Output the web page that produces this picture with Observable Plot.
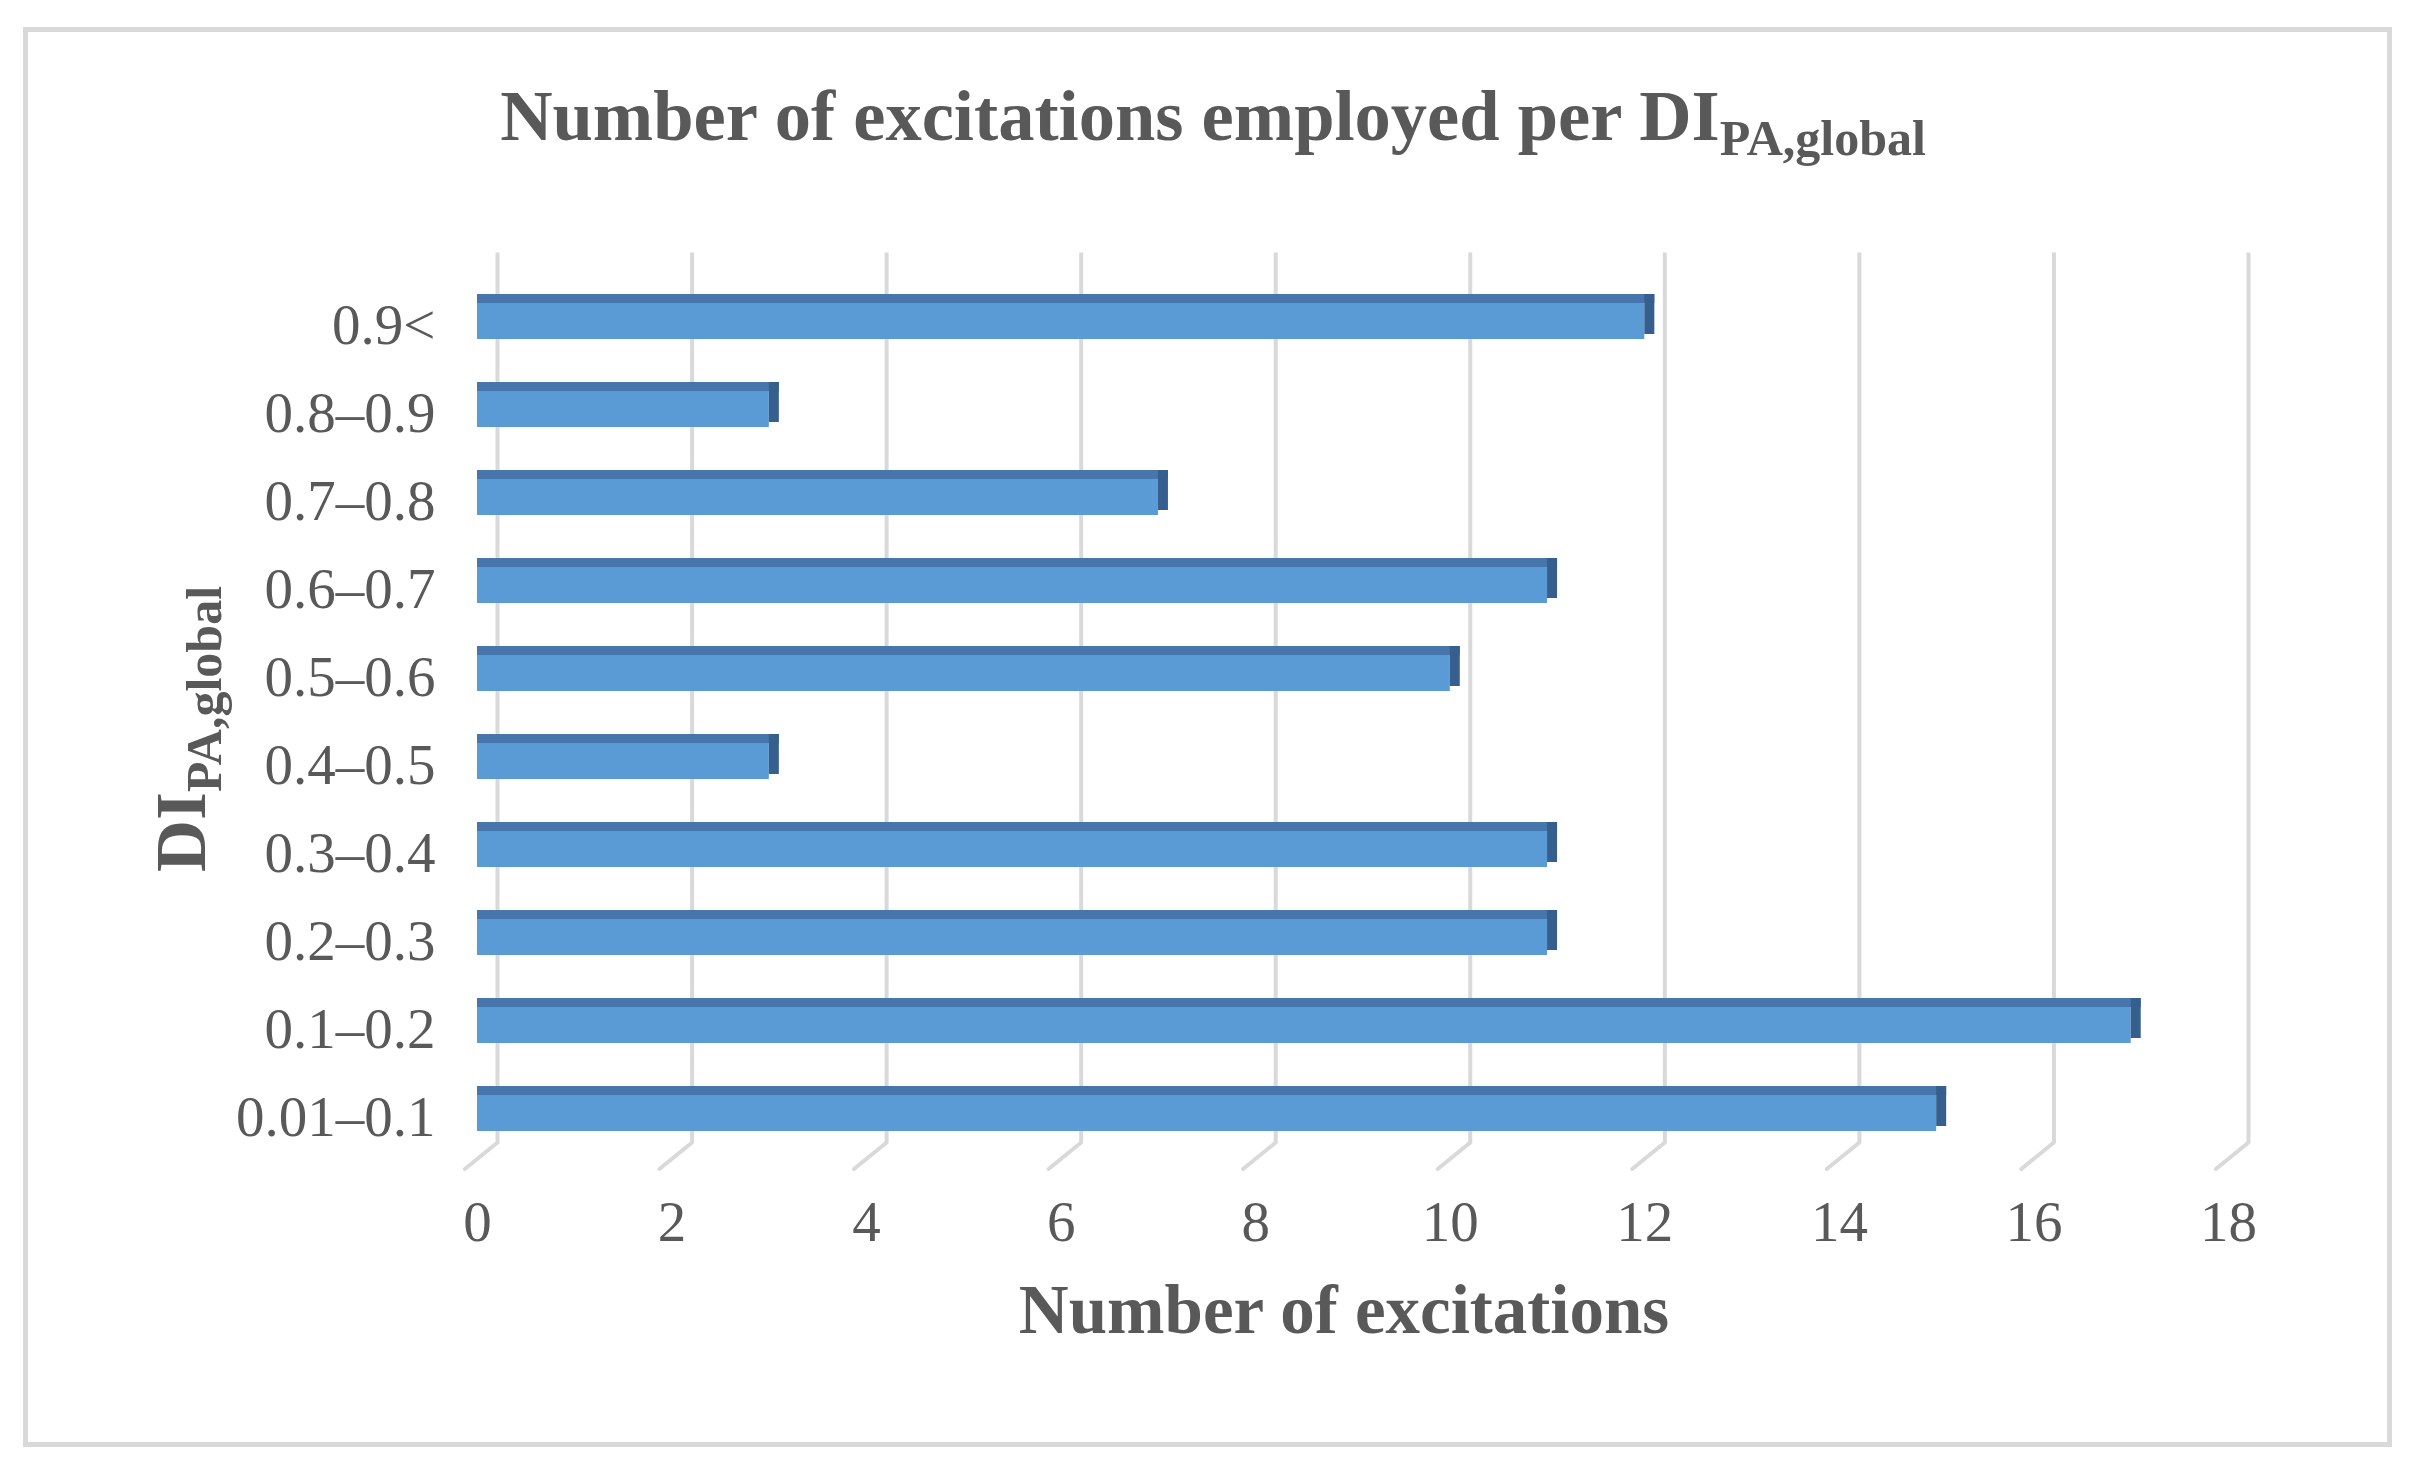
<!DOCTYPE html>
<html>
<head>
<meta charset="utf-8">
<script src="https://cdn.jsdelivr.net/npm/d3@7"></script>
<script src="https://cdn.jsdelivr.net/npm/@observablehq/plot@0.6"></script>
<style>
  html, body { margin: 0; padding: 0; background: #ffffff; }
  #page { position: relative; width: 2416px; height: 1483px; overflow: hidden; }
  #frame { position: absolute; left: 23px; top: 27px; width: 2369px; height: 1420px;
           box-sizing: border-box; border: 5px solid #d9d9d9; }
  #title { position: absolute; left: 0; top: 80px; width: 2426px; text-align: center;
           font-family: "Liberation Serif", "Times New Roman", serif; font-weight: bold;
           font-size: 72.5px; line-height: 1; color: #595959; white-space: nowrap; }
  #title .sub { font-size: 50px; position: relative; top: 15px; }
  #chart { position: absolute; left: 0; top: 180px; }
</style>
</head>
<body>
<div id="page">
  <div id="frame"></div>
  <div id="title">Number of excitations employed per DI<span class="sub">PA,global</span></div>
  <div id="chart"></div>
</div>
<script>
// ---- data ----
const categories = ["0.01–0.1", "0.1–0.2", "0.2–0.3", "0.3–0.4", "0.4–0.5",
                    "0.5–0.6", "0.6–0.7", "0.7–0.8", "0.8–0.9", "0.9<"];
const counts = [15, 17, 11, 11, 3, 10, 11, 7, 3, 12];
const xTicks = [0, 2, 4, 6, 8, 10, 12, 14, 16, 18];
const xTitle = "Number of excitations";
const yTitleMain = "DI";
const yTitleSub = "PA,global";

const data = categories.map((c, i) => ({range: c, count: counts[i]}));
const yDomain = categories.slice().reverse();

const font = "'Liberation Serif', 'Times New Roman', serif";
const textColor = "#595959";
const grid = "#d9d9d9";

const svg = Plot.plot({
  width: 2416,
  height: 1240,
  marginLeft: 477,
  marginRight: 188,
  marginTop: 68.6,
  marginBottom: 243,
  style: {fontFamily: font, background: "transparent", color: textColor},
  x: {domain: [0, 18], label: null},
  y: {domain: yDomain, padding: 0.49, label: null},
  marks: [
    Plot.ruleX(xTicks, {x: d => d, dx: 20, insetTop: 4, insetBottom: 35, stroke: grid, strokeWidth: 4}),
    Plot.vector(xTicks, {x: d => d, frameAnchor: "bottom", dx: 20, dy: -35, anchor: "start",
                         length: 42, rotate: 231, r: 0, stroke: grid, strokeWidth: 4}),
    Plot.barX(data, {y: "range", x1: 0, x2: "count", insetTop: 9, fill: "#5B9BD5"}),
    Plot.barX(data, {y: "range", x1: 0, x2: "count", insetBottom: 36, insetRight: -10, fill: "#4676AC"}),
    Plot.barX(data, {y: "range", x1: "count", x2: "count", insetRight: -10, insetBottom: 5, fill: "#365F8D"}),
    Plot.axisX({ticks: xTicks, tickSize: 0, tickPadding: 23, fontSize: 57, label: null,
                color: textColor, fontFamily: font}),
    Plot.axisY({tickSize: 0, tickPadding: 42, fontSize: 57, dy: 9, label: null,
                color: textColor, fontFamily: font})
  ]
});

document.getElementById("chart").appendChild(svg);

const s = d3.select(svg);
// y-axis title (rotated, with subscript)
const yt = s.append("text")
  .attr("transform", "translate(205,692) rotate(-90)")
  .attr("text-anchor", "start")
  .attr("font-family", font)
  .attr("font-weight", "bold")
  .attr("font-size", 72)
  .attr("fill", textColor);
yt.append("tspan").text(yTitleMain);
yt.append("tspan").attr("font-size", 50).attr("dy", 16).text(yTitleSub);

// x-axis title
s.append("text")
  .attr("x", 1344)
  .attr("y", 1153)
  .attr("text-anchor", "middle")
  .attr("font-family", font)
  .attr("font-weight", "bold")
  .attr("font-size", 69)
  .attr("fill", textColor)
  .text(xTitle);
</script>
</body>
</html>
